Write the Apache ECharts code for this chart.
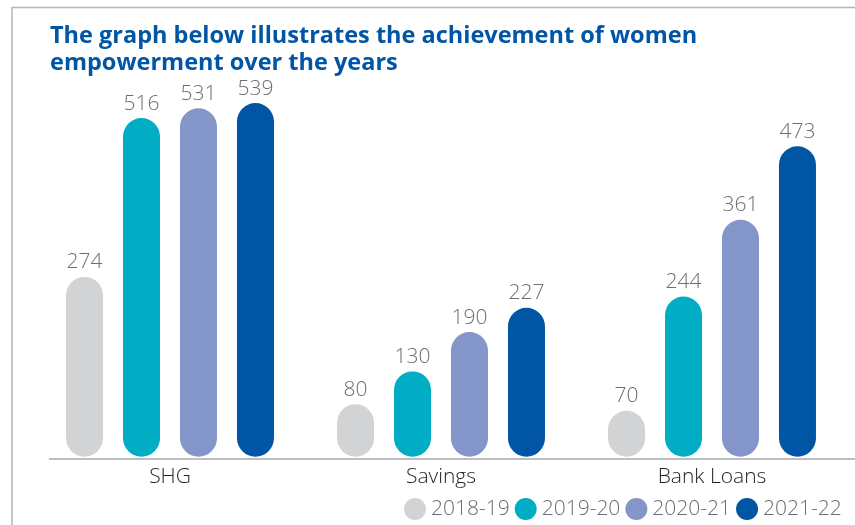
<!DOCTYPE html>
<html>
<head>
<meta charset="utf-8">
<script src="https://cdn.jsdelivr.net/npm/echarts@6/dist/echarts.min.js"></script>
<style>
  html, body { margin: 0; padding: 0; background: #fff; }
  #chart { width: 855px; height: 525px; }
</style>
</head>
<body>
<div id="chart"></div>
<script>
  // values
  const categories = ['SHG', 'Savings', 'Bank Loans'];
  const years = ['2018-19', '2019-20', '2020-21', '2021-22'];
  const fy1819 = [274, 80, 70];
  const fy1920 = [516, 130, 244];
  const fy2021 = [531, 190, 361];
  const fy2122 = [539, 227, 473];
  const colors = ['#d1d3d4', '#00adc5', '#8496c9', '#0055a5'];

  const seriesData = [fy1819, fy1920, fy2021, fy2122];

  const myChart = echarts.init(document.getElementById('chart'));
  myChart.setOption({
    animation: false,
    color: colors,
    title: {
      text: 'The graph below illustrates the achievement of women\nempowerment over the years',
      left: 50,
      top: 23,
      padding: 0,
      textStyle: {
        fontFamily: 'Open Sans',
        fontWeight: 'bold',
        fontSize: 23.5,
        lineHeight: 27,
        color: '#0055a5',
      },
    },
    legend: {
      data: years,
      left: 404,
      top: 498,
      padding: 0,
      icon: 'circle',
      itemWidth: 22,
      itemHeight: 22,
      itemGap: 5,
      textStyle: {
        fontFamily: 'Open Sans',
        fontWeight: 300,
        fontSize: 21,
        color: '#6d6e71',
      },
    },
    grid: { left: 34.5, width: 813, top: 63, height: 396 },
    xAxis: {
      type: 'category',
      data: categories,
      axisLine: { show: false },
      axisTick: { show: false },
      axisLabel: {
        margin: 8,
        fontFamily: 'Open Sans',
        fontWeight: 300,
        fontSize: 21,
        color: '#231f20',
      },
    },
    yAxis: {
      type: 'value',
      min: -3.5,
      max: 600,
      show: false,
      splitLine: { show: false },
    },
    series: seriesData.map((d, i) => ({
      name: years[i],
      type: 'bar',
      data: d,
      barWidth: 37,
      barGap: '54%',
      itemStyle: { borderRadius: 18.5 },
      label: {
        show: true,
        position: 'top',
        distance: 4,
        fontFamily: 'Open Sans',
        fontWeight: 300,
        fontSize: 21,
        color: '#6d6e71',
      },
    })),
    graphic: [
      {
        type: 'polyline',
        shape: { points: [[12, 525], [12, 7.5], [855, 7.5]] },
        style: { stroke: '#b5b5b5', lineWidth: 1.5, fill: null },
        silent: true,
      },
      {
        type: 'line',
        shape: { x1: 49, y1: 459, x2: 855, y2: 459 },
        style: { stroke: '#a7a9ac', lineWidth: 1.5 },
        silent: true,
      },
    ],
  });
</script>
</body>
</html>
